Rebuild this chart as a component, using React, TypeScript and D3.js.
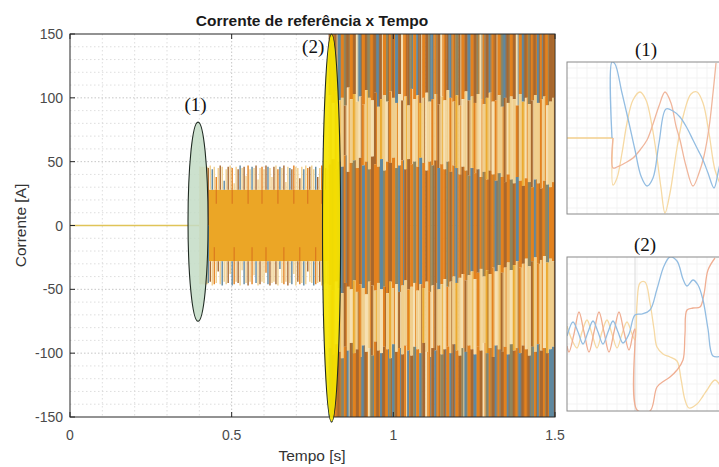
import React from 'react';
import * as d3 from 'd3';

// ---------- axis ticks ----------
const xTicks = [0, 0.5, 1, 1.5];
const xTickLabels = ['0', '0.5', '1', '1.5'];
const yTicks = [150, 100, 50, 0, -50, -100, -150];
const yTickLabels = ['150', '100', '50', '0', '-50', '-100', '-150'];

// ---------- main data ----------
// idle period: reference current is zero
const idleTimes = [0, 0.4];
const idleValues = [0, 0];

// section 1 (0.40 s .. 0.80 s): hysteresis band +-28 A with spikes up to ~+-46 A
const s1Start = 0.4;
const s1BandStart = 0.428;
const s1End = 0.8;
const s1BandHi = 28;
const s1BandLo = -28;
const s1LeadHi = 46;
const s1LeadLo = -46;
const s1Top = [46, 46, 46, 46, 45, 47, 44, 46, 38, 45, 47, 46, 35, 44, 46, 47, 45, 33, 46, 44, 47, 45, 46, 39, 47, 44, 46, 45, 47, 36, 45, 46, 44, 47, 46, 45, 38, 46, 47, 44, 46, 45, 47, 34, 46, 45, 44, 47, 46, 45, 37, 46, 44, 47, 45, 46, 47, 44, 46, 38, 45, 47, 46, 45, 44];
const s1Bot = [-46, -46, -46, -46, -45, -44, -47, -46, -45, -36, -46, -47, -44, -46, -45, -38, -47, -46, -44, -45, -47, -35, -46, -45, -47, -44, -46, -39, -45, -47, -46, -44, -45, -37, -46, -47, -45, -44, -46, -47, -34, -45, -46, -44, -47, -45, -46, -38, -47, -44, -46, -45, -47, -46, -36, -44, -45, -47, -46, -45, -44, -47, -46, -45, -46];
const s1TopCodes = 'TTTTRTBTOTRTBTRTOTTRBTRTOTBTRTTOTRBTTRTOBTRTTBROTTRTBTORTTBRTOTRT';
const s1BotCodes = 'TTTTBRTOTRTBTTRTBOTRTTBTRTOTBTRTTOBRTTRTBTOTRTBTTROTBTRTTBOTRTBTT';

// section 2 (0.80 s .. 1.50 s): full +-150 A swings, band edges per column
const s2Start = 0.8;
const s2End = 1.5;
const s2Max = 150;
const s2Min = -150;
const s2UpHi = [102, 96, 105, 98, 100, 94, 108, 99, 103, 97, 101, 95, 106, 100, 98, 104, 93, 99, 102, 97, 105, 100, 96, 103, 98, 101, 94, 107, 99, 102, 96, 100, 104, 97, 99, 103, 95, 101, 98, 106, 100, 97, 102, 94, 99, 105, 98, 101, 96, 103, 99, 95, 100, 104, 97, 98, 102, 93, 100, 96, 101, 99, 94, 103, 97, 100, 95, 98, 102, 96, 99, 101, 94, 97, 100];
const s2UpLo = [48, 52, 44, 50, 46, 55, 42, 49, 51, 45, 53, 47, 50, 44, 54, 48, 46, 52, 43, 50, 49, 53, 45, 47, 51, 44, 52, 48, 50, 46, 53, 49, 43, 50, 47, 51, 45, 48, 44, 50, 42, 47, 45, 40, 46, 43, 39, 45, 41, 44, 38, 42, 36, 43, 40, 35, 41, 38, 34, 40, 36, 33, 38, 35, 31, 37, 34, 30, 36, 33, 29, 35, 32, 30, 34];
const s2DnHi = [-47, -51, -44, -49, -53, -45, -48, -50, -43, -52, -46, -49, -54, -44, -47, -51, -45, -50, -48, -53, -44, -49, -46, -52, -47, -43, -50, -48, -45, -51, -46, -49, -44, -52, -47, -45, -50, -46, -42, -48, -44, -40, -45, -41, -38, -43, -39, -36, -42, -37, -34, -40, -35, -38, -33, -36, -31, -37, -33, -29, -35, -31, -28, -33, -30, -26, -32, -28, -25, -30, -27, -24, -29, -26, -28];
const s2DnLo = [-96, -101, -93, -99, -104, -95, -98, -92, -100, -97, -103, -94, -99, -96, -102, -91, -98, -100, -95, -97, -104, -93, -99, -96, -101, -94, -98, -102, -95, -97, -100, -92, -99, -103, -96, -98, -94, -101, -97, -95, -100, -93, -98, -102, -96, -99, -94, -97, -101, -95, -98, -92, -100, -96, -103, -94, -97, -99, -95, -101, -93, -98, -96, -100, -94, -97, -102, -95, -99, -93, -98, -96, -100, -97, -95];
const s2TopCodes = 'RORBOGRORCBORGORBROGORBRCORGOBRORGBORCORBOGRORBORGCORBOROGBRORCOBRGORBOROR';
const s2UpCodes = 'TCOTTRCTYTCOTTCRTYTCOTTCRTTOCTYTCTOTRTCTOTYTCTRTOTCTYTCOTTRCTTOTYCTRTTOTCT';
const s2CenterCodes = 'OROGBOROGORBOGROOBGOROGBORROGOBOROGRBOOGROBOROGBOROGOROBGOROGRBOROGOBOROGO';
const s2DnCodes = 'TOCTTRTCYTOTCTRTTCOTYTCRTTOTCTTYTOCRTTCOTTYTCRTTCOTTYTOCTRTTCYTOTCTRTOTCYT';
const s2BotCodes = 'BRORGOBROROBRCGORBROGBROROBRGOBRCORBOGROBRORGBORBORCGORBOROBGROBRORGOBRORB';

// ---------- annotations (data coordinates) ----------
const zoomMarks = [
  { label: '(1)', t: 0.396, v: 3, dt: 0.031, dv: 78, fill: '#c3dcc6', op: 0.85, lt: 0.388, lv: 90 },
  { label: '(2)', t: 0.809, v: -2, dt: 0.028, dv: 152, fill: '#f5e400', op: 0.92, lt: 0.752, lv: 135 },
];

// ---------- inset data (inset-local units) ----------
const in1Flat = [[0, 0], [46, 0]];
const in1Blue = [[45, 0], [45, 76], [48, 74], [55, 45], [62, 15], [68, -12], [74, -38], [80, -48], [86, -40], [92, -5], [99, 29], [106, 27], [113, 21], [120, 10], [126, -2], [131, -12], [136, -22], [141, -35], [147, -50], [151, -35], [156, -10]];
const in1Orange = [[46, 0], [46, -30], [50, -29], [58, -25], [66, -20], [73, -12], [80, -2], [86, 14], [92, 32], [98, 46], [104, 35], [109, 12], [113, -2], [119, -28], [126, -48], [132, -35], [137, -18], [142, 10], [146, 45], [149, 75]];
const in1Yellow = [[46, 0], [46, -47], [50, -40], [55, -15], [60, 15], [66, 38], [73, 46], [79, 38], [85, 12], [90, -20], [94, -50], [98, -75], [103, -55], [110, -10], [117, 25], [124, 44], [130, 46], [136, 35], [142, 5], [148, -32], [155, -50]];

const in2Blue = [[0, -2], [6, 12], [11, 2], [16, -10], [21, 2], [26, 13], [31, 2], [36, -10], [41, 2], [46, 13], [51, 2], [56, -9], [62, 0], [68, 19], [75, 20], [83, 24], [90, 45], [97, 68], [103, 77], [110, 73], [116, 55], [120, 48], [126, 54], [131, 49], [136, 34], [141, 5], [146, -22], [155, -22]];
const in2Orange = [[0, -12], [2, -18], [7, 0], [12, 22], [17, 2], [22, -18], [27, 2], [32, 22], [37, 2], [42, -18], [47, 2], [52, 22], [57, 2], [62, -16], [66, 0], [68, 5], [70, -76], [83, -77], [90, -53], [97, -47], [103, -43], [110, -36], [116, -26], [118, 0], [120, 24], [126, 26], [133, 27], [137, 40], [141, 64], [148, 76]];
const in2Yellow = [[0, 8], [5, -6], [10, -14], [15, 2], [20, 14], [25, 0], [30, -14], [35, 2], [40, 14], [45, 0], [50, -14], [55, 0], [60, 12], [65, 0], [68, -6], [70, 30], [73, 51], [78, 52], [83, 31], [87, 5], [90, -13], [96, -20], [103, -23], [110, -27], [114, -45], [118, -66], [122, -74], [130, -70], [136, -62], [140, -56], [148, -46], [155, -55]];

// ---------- styles ----------
const PAL: Record<string, string> = {
  R: '#a8682f',
  B: '#5f88a0',
  O: '#e3821f',
  G: '#8f8660',
  T: '#f0cf8e',
  C: '#f6e0b2',
  Y: '#ecab30',
};
const code = (s: string, i: number) => PAL[s.charAt(((i % s.length) + s.length) % s.length)] || PAL.O;
const at = (a: number[], i: number) => a[i % a.length];

const FONT = '"Liberation Sans", Arial, sans-serif';
const SERIF = '"Liberation Serif", "DejaVu Serif", serif';

export default function App() {
  const W = 719, H = 467;
  const x = d3.scaleLinear().domain([0, 1.5]).range([70, 555]);
  const y = d3.scaleLinear().domain([-150, 150]).range([417, 34]);

  const minorX = d3.range(0.1, 1.45, 0.1).filter((v) => Math.abs(v - 0.5) > 1e-6 && Math.abs(v - 1) > 1e-6);
  const minorY = d3.range(-140, 141, 10).filter((v) => v % 50 !== 0);
  const majorX = [0.5, 1];
  const majorY = [-100, -50, 0, 50, 100];

  const n1 = s1Top.length;
  const dt1 = (s1End - s1Start) / n1;
  const s1Cols = d3.range(n1).map((i) => {
    const t = s1Start + i * dt1;
    return { i, x0: x(t), x1: x(t + dt1), t };
  });

  const n2 = s2UpHi.length;
  const dt2 = (s2End - s2Start) / n2;
  const s2Cols = d3.range(n2).map((i) => {
    const t = s2Start + i * dt2;
    return { i, x0: x(t), x1: x(t + dt2) };
  });

  const idleLine = d3.line<number>().x((_, i) => x(idleTimes[i])).y((v) => y(v))(idleValues) || '';

  const ix = d3.scaleLinear().domain([0, 160]).range([567, 727]);
  const iy1 = d3.scaleLinear().domain([-76, 76]).range([214, 62]);
  const iy2 = d3.scaleLinear().domain([-77, 77]).range([411, 257]);
  const mk = (iy: d3.ScaleLinear<number, number>) =>
    d3.line<number[]>().x((d) => ix(d[0])).y((d) => iy(d[1])).curve(d3.curveCatmullRom.alpha(0.5));
  const l1 = mk(iy1);
  const l2 = mk(iy2);
  const inGridX = d3.range(10, 160, 10);
  const inGridY = d3.range(-70, 71, 10);

  return (
    <svg width={W} height={H} style={{ position: 'absolute', left: 0, top: 0, background: '#fff' }} fontFamily={FONT}>
      <defs>
        <clipPath id="plotClip"><rect x={70} y={34} width={485} height={383} /></clipPath>
        <clipPath id="in1Clip"><rect x={567} y={62} width={160} height={152} /></clipPath>
        <clipPath id="in2Clip"><rect x={567} y={257} width={160} height={154} /></clipPath>
      </defs>
      <rect x={0} y={0} width={W} height={H} fill="#fff" />
      <g>
        {minorX.map((v) => (
          <line key={'mx' + v} x1={x(v)} x2={x(v)} y1={34} y2={417} stroke="#d6d6d6" strokeWidth={0.8} strokeDasharray="1.5,2.5" />
        ))}
        {minorY.map((v) => (
          <line key={'my' + v} x1={70} x2={555} y1={y(v)} y2={y(v)} stroke="#d6d6d6" strokeWidth={0.8} strokeDasharray="1.5,2.5" />
        ))}
        {majorX.map((v) => (
          <line key={'Mx' + v} x1={x(v)} x2={x(v)} y1={34} y2={417} stroke="#c0c0c0" strokeWidth={0.9} strokeDasharray="1.5,2" />
        ))}
        {majorY.map((v) => (
          <line key={'My' + v} x1={70} x2={555} y1={y(v)} y2={y(v)} stroke="#c0c0c0" strokeWidth={0.9} strokeDasharray="1.5,2" />
        ))}
      </g>

      <g clipPath="url(#plotClip)">
        <path d={idleLine} fill="none" stroke="#e0c458" strokeWidth={1.4} />
        <rect x={x(s1Start)} y={y(s1LeadHi)} width={x(s1BandStart) - x(s1Start)} height={y(s1LeadLo) - y(s1LeadHi)} fill="#efd9a2" />
        <rect x={x(s1BandStart)} y={y(s1BandHi)} width={x(s1End) - x(s1BandStart)} height={y(s1BandLo) - y(s1BandHi)} fill="#eba626" />
        {s1Cols.map((c) => {
          const cx = (c.x0 + c.x1) / 2;
          const top = s1Top[c.i];
          const bot = at(s1Bot, c.i);
          const ct = code(s1TopCodes, c.i);
          const cb = code(s1BotCodes, c.i);
          const inBand = c.t >= s1BandStart;
          return (
            <g key={'c1' + c.i}>
              <line x1={cx} x2={cx} y1={y(inBand ? s1BandHi : 0)} y2={y(top)} stroke={ct} strokeWidth={1.4} />
              <line x1={cx} x2={cx} y1={y(inBand ? s1BandLo : 0)} y2={y(bot)} stroke={cb} strokeWidth={1.4} />
              {inBand && s1TopCodes.charAt(c.i % s1TopCodes.length) === 'O' && (
                <line x1={cx} x2={cx} y1={y(s1BandHi)} y2={y(s1BandHi - 11)} stroke="#d8701c" strokeWidth={1} />
              )}
              {inBand && s1BotCodes.charAt(c.i % s1BotCodes.length) === 'O' && (
                <line x1={cx} x2={cx} y1={y(s1BandLo)} y2={y(s1BandLo + 11)} stroke="#d8701c" strokeWidth={1} />
              )}
            </g>
          );
        })}
        {s2Cols.map((c) => {
          const w = c.x1 - c.x0 + 0.3;
          const uh = s2UpHi[c.i], ul = at(s2UpLo, c.i), dh = at(s2DnHi, c.i), dl = at(s2DnLo, c.i);
          const segs: [number, number, string, string][] = [
            [uh, s2Max + 5, code(s2TopCodes, c.i), code(s2TopCodes, c.i + 7)],
            [ul, uh, code(s2UpCodes, c.i), code(s2UpCodes, c.i + 5)],
            [dh, ul, code(s2CenterCodes, c.i), code(s2CenterCodes, c.i + 6)],
            [dl, dh, code(s2DnCodes, c.i), code(s2DnCodes, c.i + 5)],
            [s2Min - 5, dl, code(s2BotCodes, c.i), code(s2BotCodes, c.i + 7)],
          ];
          return (
            <g key={'c2' + c.i}>
              {segs.map((s, k) => (
                <g key={k}>
                  <rect x={c.x0} y={y(s[1])} width={w} height={y(s[0]) - y(s[1])} fill={s[2]} />
                  <rect x={c.x1 - 1.1} y={y(s[1])} width={1.1} height={y(s[0]) - y(s[1])} fill={s[3]} opacity={0.85} />
                </g>
              ))}
            </g>
          );
        })}
      </g>

      <rect x={70} y={34} width={485} height={383} fill="none" stroke="#262626" strokeWidth={1} />
      {xTicks.map((v) => (
        <g key={'xt' + v}>
          <line x1={x(v)} x2={x(v)} y1={417} y2={412} stroke="#262626" />
          <line x1={x(v)} x2={x(v)} y1={34} y2={39} stroke="#262626" />
        </g>
      ))}
      {yTicks.map((v) => (
        <line key={'yt' + v} x1={70} x2={75} y1={y(v)} y2={y(v)} stroke="#262626" />
      ))}
      {xTicks.map((v, i) => (
        <text key={'xl' + v} x={x(v)} y={440} textAnchor="middle" fontSize={14} fill="#4a4a4a">{xTickLabels[i]}</text>
      ))}
      {yTicks.map((v, i) => (
        <text key={'yl' + v} x={63} y={y(v)} dy="0.36em" textAnchor="end" fontSize={14} fill="#4a4a4a">{yTickLabels[i]}</text>
      ))}
      <text x={312} y={26} textAnchor="middle" fontSize={15.5} fontWeight="bold" fill="#1a1a1a">Corrente de referência x Tempo</text>
      <text x={312} y={461} textAnchor="middle" fontSize={15.5} fill="#333">Tempo [s]</text>
      <text transform={`translate(26,${y(0)}) rotate(-90)`} textAnchor="middle" fontSize={15.5} fill="#333">Corrente [A]</text>

      {zoomMarks.map((m) => {
        const cx = x(m.t), cy = y(m.v);
        const rx = x(m.t + m.dt) - x(m.t);
        const ry = y(-m.dv) - y(0);
        return (
          <g key={m.label}>
            <ellipse cx={cx} cy={cy} rx={rx} ry={ry} fill={m.fill} fillOpacity={m.op} stroke="#1f2a22" strokeWidth={1.1} />
            <text x={x(m.lt)} y={y(m.lv)} textAnchor="middle" fontSize={19} fontFamily={SERIF} fill="#111">{m.label}</text>
          </g>
        );
      })}

      <text x={646} y={56} textAnchor="middle" fontSize={19} fontFamily={SERIF} fill="#111">(1)</text>
      <g clipPath="url(#in1Clip)">
        <rect x={567} y={62} width={160} height={152} fill="#fff" />
        {inGridX.map((v) => <line key={'g1x' + v} x1={ix(v)} x2={ix(v)} y1={62} y2={214} stroke="#f3f3f3" />)}
        {inGridY.map((v) => <line key={'g1y' + v} x1={567} x2={727} y1={iy1(v)} y2={iy1(v)} stroke="#f3f3f3" />)}
        <path d={l1(in1Flat) || ''} fill="none" stroke="#f3cf8c" strokeWidth={1.3} />
        <path d={l1(in1Yellow) || ''} fill="none" stroke="#f6d9a3" strokeWidth={1.3} />
        <path d={l1(in1Orange) || ''} fill="none" stroke="#f0b69c" strokeWidth={1.3} />
        <path d={l1(in1Blue) || ''} fill="none" stroke="#93bde2" strokeWidth={1.3} />
      </g>
      <rect x={567} y={62} width={160} height={152} fill="none" stroke="#8a8a8a" />

      <text x={645} y={251} textAnchor="middle" fontSize={19} fontFamily={SERIF} fill="#111">(2)</text>
      <g clipPath="url(#in2Clip)">
        <rect x={567} y={257} width={160} height={154} fill="#fff" />
        {inGridX.map((v) => <line key={'g2x' + v} x1={ix(v)} x2={ix(v)} y1={257} y2={411} stroke="#f3f3f3" />)}
        {inGridY.map((v) => <line key={'g2y' + v} x1={567} x2={727} y1={iy2(v)} y2={iy2(v)} stroke="#f3f3f3" />)}
        <line x1={ix(68)} x2={ix(68)} y1={257} y2={411} stroke="#dadada" />
        <path d={l2(in2Yellow) || ''} fill="none" stroke="#f6d9a3" strokeWidth={1.3} />
        <path d={l2(in2Orange) || ''} fill="none" stroke="#f0ae92" strokeWidth={1.3} />
        <path d={l2(in2Blue) || ''} fill="none" stroke="#93bde2" strokeWidth={1.3} />
      </g>
      <rect x={567} y={257} width={160} height={154} fill="none" stroke="#8a8a8a" />
    </svg>
  );
}
